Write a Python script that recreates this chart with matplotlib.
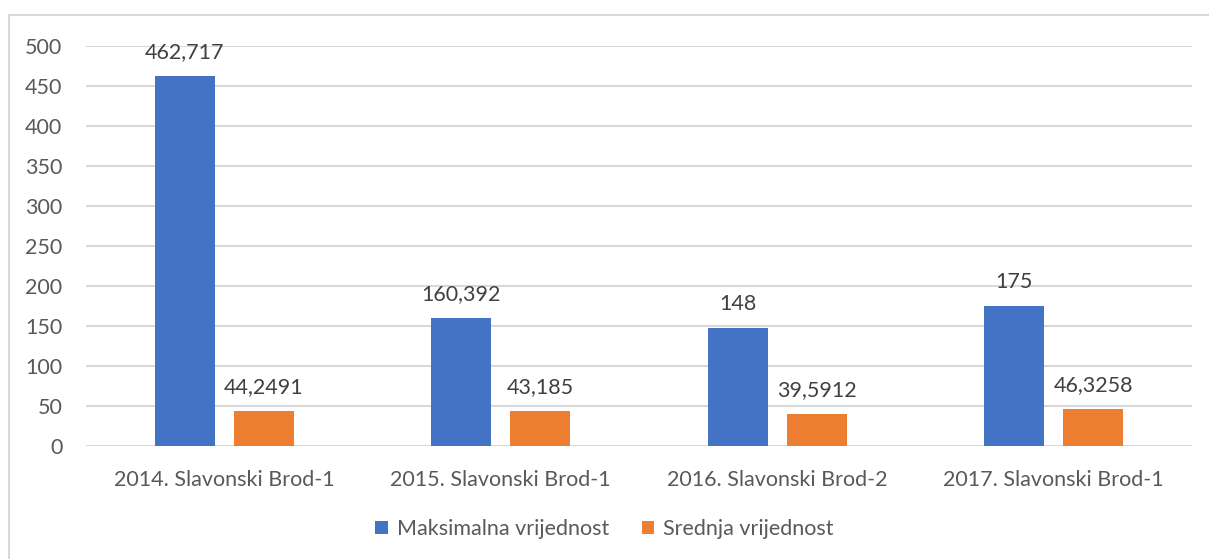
import matplotlib
matplotlib.use('Agg')
from matplotlib import pyplot as plt
from matplotlib.lines import Line2D
import numpy as np

categories = ['2014. Slavonski Brod-1', '2015. Slavonski Brod-1',
              '2016. Slavonski Brod-2', '2017. Slavonski Brod-1']
maks = [462.717, 160.392, 148, 175]
sred = [44.2491, 43.185, 39.5912, 46.3258]
maks_lab = ['462,717', '160,392', '148', '175']
sred_lab = ['44,2491', '43,185', '39,5912', '46,3258']
series_names = ['Maksimalna vrijednost', 'Srednja vrijednost']

plt.rcParams['font.family'] = ['Lato', 'DejaVu Sans']
fs = 15.5

fig = plt.figure(figsize=(12.09, 5.59), dpi=100)
ax = fig.add_axes([86/1209, 113/559, 1106/1209, 400/559])

# chart area frame (left + top only visible)
fig.add_artist(Line2D([9/1209, 9/1209], [0, 1 - 15/559], color='#d9d9d9', lw=1.5))
fig.add_artist(Line2D([9/1209, 1], [1 - 15/559, 1 - 15/559], color='#d9d9d9', lw=1.5))

x = np.arange(len(categories))
w = 0.218
off = 0.143
b1 = ax.bar(x - off, maks, w, color='#4472c4', label=series_names[0], zorder=3)
b2 = ax.bar(x + off, sred, w, color='#ed7d31', label=series_names[1], zorder=3)
ax.bar_label(b1, labels=maks_lab, padding=10, fontsize=fs, color='#404040')
ax.bar_label(b2, labels=sred_lab, padding=10, fontsize=fs, color='#404040')

ax.set_xlim(-0.5, 3.5)
ax.set_ylim(0, 500)
ax.set_yticks(np.arange(0, 501, 50))
ax.set_xticks(x)
ax.set_xticklabels(categories)
ax.tick_params(axis='both', length=0, labelsize=fs, labelcolor='#595959')
ax.tick_params(axis='y', pad=17)
ax.tick_params(axis='x', pad=17)
for s in ax.spines.values():
    s.set_visible(False)
ax.grid(axis='y', color='#d9d9d9', lw=1.5, zorder=0)
ax.set_axisbelow(True)

leg = fig.legend(loc='center', bbox_to_anchor=(0.5, 1 - 529/559), ncol=2,
                 frameon=False, fontsize=fs, handlelength=0.6, handleheight=0.6,
                 handletextpad=0.4, columnspacing=1.5)
for t in leg.get_texts():
    t.set_color('#595959')

plt.savefig('out.png', dpi=100)
